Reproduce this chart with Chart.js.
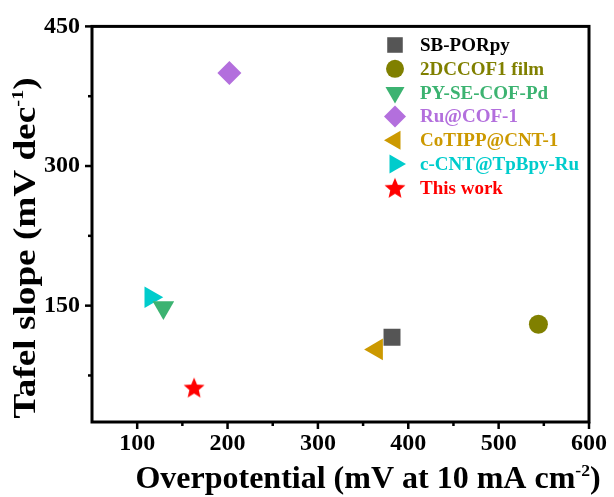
<!DOCTYPE html>
<html>
<head>
<meta charset="utf-8">
<script src="https://cdn.jsdelivr.net/npm/chart.js@4"></script>
<style>
  html, body { margin: 0; padding: 0; background: #fff; }
  #wrap { width: 614px; height: 497px; }
</style>
</head>
<body>
<div id="wrap"><canvas id="tafelChart" width="614" height="497"></canvas></div>
<script>
// data
var seriesNames = ['SB-PORpy', '2DCCOF1 film', 'PY-SE-COF-Pd', 'Ru@COF-1', 'CoTIPP@CNT-1', 'c-CNT@TpBpy-Ru', 'This work'];
var overpotential = [382, 544, 129, 202, 365, 115, 163];
var tafelSlope = [116, 130, 148, 400, 103, 159, 62];
var seriesColors = ['#555555', '#808000', '#3CB371', '#B36FDD', '#CC9900', '#00CCCC', '#FF0000'];
var labelColors = ['#000000', '#808000', '#3CB371', '#B36FDD', '#CC9900', '#00CCCC', '#FF0000'];
var markerStyles = ['rect', 'circle', 'triangle', 'rectRot', 'triangle', 'triangle', 'star'];
var markerRotation = [0, 0, 180, 0, 270, 90, 0];
var markerRadius = [12, 9.5, 12.5, 12, 12.5, 12.5, 11];

var xTicks = [100, 150, 200, 250, 300, 350, 400, 450, 500, 550, 600];
var yTicks = [75, 150, 225, 300, 375, 450];
var xLabelStep = 100, yLabelStep = 150;

var serif = '"Liberation Serif", "Times New Roman", serif';

// filled star image, chart.js 'star' is only a stroke
function makeStar(r, color) {
  var c = document.createElement('canvas');
  c.width = r * 2 + 2; c.height = r * 2 + 2;
  var g = c.getContext('2d');
  var cx = c.width / 2, cy = c.height / 2 + 1;
  g.beginPath();
  for (var i = 0; i < 10; i++) {
    var rr = i % 2 === 0 ? r : r * 0.45;
    var a = -Math.PI / 2 + i * Math.PI / 5;
    g.lineTo(cx + rr * Math.cos(a), cy + rr * Math.sin(a));
  }
  g.closePath();
  g.fillStyle = color;
  g.fill();
  return c;
}

var datasets = seriesNames.map(function (name, i) {
  var style = markerStyles[i];
  if (style === 'star') style = makeStar(markerRadius[i], seriesColors[i]);
  return {
    label: name,
    data: [{ x: overpotential[i], y: tafelSlope[i] }],
    pointStyle: style,
    rotation: markerRotation[i],
    radius: markerRadius[i],
    hoverRadius: markerRadius[i],
    backgroundColor: seriesColors[i],
    borderColor: seriesColors[i],
    borderWidth: 0
  };
});

// box around the plot + tick marks
var framePlugin = {
  id: 'frame',
  afterDraw: function (chart) {
    var ctx = chart.ctx, a = chart.chartArea;
    var xs = chart.scales.x, ys = chart.scales.y;
    ctx.save();
    ctx.strokeStyle = '#000';
    ctx.lineWidth = 3;
    ctx.strokeRect(a.left, a.top, a.right - a.left, a.bottom - a.top);
    ctx.lineWidth = 2.5;
    xTicks.forEach(function (v) {
      var px = xs.getPixelForValue(v);
      var len = v % xLabelStep === 0 ? 7 : 4;
      ctx.beginPath();
      ctx.moveTo(px, a.bottom);
      ctx.lineTo(px, a.bottom + len);
      ctx.stroke();
    });
    yTicks.forEach(function (v) {
      var py = ys.getPixelForValue(v);
      var len = v % yLabelStep === 0 ? 7 : 4;
      ctx.beginPath();
      ctx.moveTo(a.left, py);
      ctx.lineTo(a.left - len, py);
      ctx.stroke();
    });
    ctx.restore();
  }
};

// axis titles with superscripts
function drawSupText(ctx, parts, size) {
  var total = 0;
  parts.forEach(function (p) {
    ctx.font = 'bold ' + (p.sup ? size * 0.55 : size) + 'px ' + serif;
    total += ctx.measureText(p.t).width;
  });
  var x = -total / 2;
  parts.forEach(function (p) {
    ctx.font = 'bold ' + (p.sup ? size * 0.55 : size) + 'px ' + serif;
    ctx.fillText(p.t, x, p.sup ? -size * 0.38 : 0);
    x += ctx.measureText(p.t).width;
  });
}

var titlePlugin = {
  id: 'axisTitles',
  afterDraw: function (chart) {
    var ctx = chart.ctx;
    ctx.save();
    ctx.fillStyle = '#000';
    ctx.textAlign = 'left';
    ctx.textBaseline = 'alphabetic';
    ctx.translate(368, 488);
    drawSupText(ctx, [{ t: 'Overpotential (mV at 10 mA cm' }, { t: '-2', sup: true }, { t: ')' }], 32);
    ctx.restore();

    ctx.save();
    ctx.fillStyle = '#000';
    ctx.textAlign = 'left';
    ctx.textBaseline = 'alphabetic';
    ctx.translate(35, 248);
    ctx.rotate(-Math.PI / 2);
    ctx.scale(1.2, 1);
    drawSupText(ctx, [{ t: 'Tafel slope (mV dec' }, { t: '-1', sup: true }, { t: ')' }], 31);
    ctx.restore();
  }
};

var legendPlugin = {
  id: 'sideLegend',
  afterDraw: function (chart) {
    var ctx = chart.ctx;
    ctx.save();
    ctx.font = 'bold 19px ' + serif;
    ctx.textBaseline = 'middle';
    ctx.textAlign = 'left';
    chart.data.datasets.forEach(function (ds, i) {
      var y = 45 + i * 23.8;
      ctx.fillStyle = ds.backgroundColor;
      var r = markerStyles[i] === 'circle' ? 9 : 11;
      Chart.helpers.drawPoint(ctx, {
        pointStyle: ds.pointStyle,
        rotation: ds.rotation,
        radius: r,
        borderWidth: 0
      }, 395, y);
      ctx.fillStyle = labelColors[i];
      ctx.fillText(ds.label, 420, y + 1);
    });
    ctx.restore();
  }
};

new Chart(document.getElementById('tafelChart'), {
  type: 'scatter',
  data: { datasets: datasets },
  options: {
    responsive: false,
    animation: false,
    layout: { padding: { top: 26, right: 23, left: 0, bottom: 0 } },
    plugins: {
      legend: { display: false },
      tooltip: { enabled: false }
    },
    scales: {
      x: {
        type: 'linear',
        min: 50,
        max: 600,
        afterFit: function (s) { s.height = 75; },
        afterBuildTicks: function (s) { s.ticks = xTicks.map(function (v) { return { value: v }; }); },
        grid: { display: false, drawTicks: false },
        border: { display: false },
        ticks: {
          padding: 7,
          maxRotation: 0,
          autoSkip: false,
          color: '#000',
          font: { family: serif, size: 24, weight: 'bold' },
          callback: function (v) { return v % xLabelStep === 0 ? v : ''; }
        }
      },
      y: {
        type: 'linear',
        min: 25,
        max: 450,
        afterFit: function (s) { s.width = 92; },
        afterBuildTicks: function (s) { s.ticks = yTicks.map(function (v) { return { value: v }; }); },
        grid: { display: false, drawTicks: false },
        border: { display: false },
        ticks: {
          padding: 12,
          autoSkip: false,
          color: '#000',
          font: { family: serif, size: 24, weight: 'bold' },
          callback: function (v) { return v % yLabelStep === 0 ? v : ''; }
        }
      }
    }
  },
  plugins: [framePlugin, titlePlugin, legendPlugin]
});
</script>
</body>
</html>
